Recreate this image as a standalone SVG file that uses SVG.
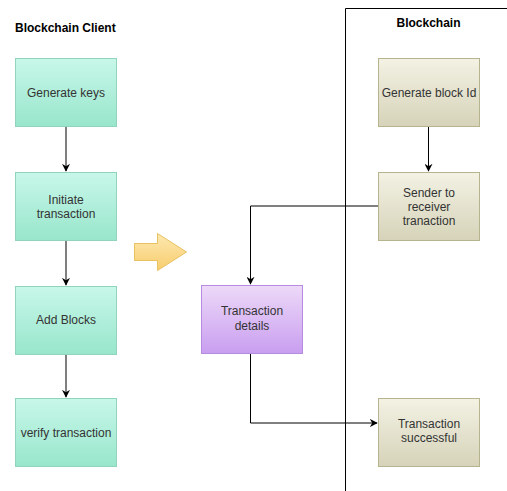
<svg xmlns="http://www.w3.org/2000/svg" width="507" height="491" viewBox="0 0 507 491">
<style>
.t{font-family:"Liberation Sans",Arial,sans-serif;font-size:12px;fill:#333;text-anchor:middle}
.h{font-family:"Liberation Sans",Arial,sans-serif;font-size:12px;font-weight:bold;fill:#000}
.g{fill:url(#gg);stroke:#8fd4bb;stroke-width:1}
.k{fill:url(#gk);stroke:#b5b48f;stroke-width:1}
.p{fill:url(#gp);stroke:#b58ce0;stroke-width:1}
.c{fill:none;stroke:#000;stroke-width:1}
</style>
<defs>
<linearGradient id="gg" x1="0" y1="0" x2="0" y2="1"><stop offset="0" stop-color="#c8f7e9"/><stop offset="1" stop-color="#98e6cc"/></linearGradient>
<linearGradient id="gk" x1="0" y1="0" x2="0" y2="1"><stop offset="0" stop-color="#f3f2e4"/><stop offset="1" stop-color="#d6d3b9"/></linearGradient>
<linearGradient id="gp" x1="0" y1="0" x2="0" y2="1"><stop offset="0" stop-color="#edd9f8"/><stop offset="1" stop-color="#c99ef0"/></linearGradient>
<linearGradient id="gy" x1="0" y1="0" x2="0" y2="1"><stop offset="0" stop-color="#fde8b0"/><stop offset="1" stop-color="#f8cd6e"/></linearGradient>
<marker id="ah" viewBox="0 0 10 10" refX="9" refY="5" markerWidth="8" markerHeight="8" orient="auto" markerUnits="userSpaceOnUse"><path d="M0,0 L10,5 L0,10 L3,5 Z" fill="#000"/></marker>
</defs>
<rect width="507" height="491" fill="#fff"/>
<g id="blockchain-lane">
<path d="M345.5,491 V8.5 H507" fill="none" stroke="#000" stroke-width="1"/>
<text class="h" x="428.5" y="27" text-anchor="middle">Blockchain</text>
</g>
<g id="client-title"><text class="h" x="15" y="32">Blockchain Client</text></g>
<g id="connectors">
<line class="c" x1="66" y1="126" x2="66" y2="171" marker-end="url(#ah)"/>
<line class="c" x1="66" y1="240" x2="66" y2="285" marker-end="url(#ah)"/>
<line class="c" x1="66" y1="354" x2="66" y2="397" marker-end="url(#ah)"/>
<line class="c" x1="428.5" y1="126" x2="428.5" y2="171" marker-end="url(#ah)"/>
<path class="c" d="M378,206 H250.5 V284" marker-end="url(#ah)"/>
<path class="c" d="M250.5,353 V423 H377" marker-end="url(#ah)"/>
</g>
<g id="n1"><rect class="g" x="15.5" y="58.5" width="101" height="68"/><text class="t" x="66" y="97">Generate keys</text></g>
<g id="n2"><rect class="g" x="15.5" y="172.5" width="101" height="68"/><text class="t" x="66" y="204">Initiate</text><text class="t" x="66" y="218">transaction</text></g>
<g id="n3"><rect class="g" x="15.5" y="286.5" width="101" height="68"/><text class="t" x="66" y="324">Add Blocks</text></g>
<g id="n4"><rect class="g" x="15.5" y="398.5" width="101" height="68"/><text class="t" x="66" y="437">verify transaction</text></g>
<g id="n5"><rect class="k" x="378.5" y="58.5" width="101" height="68"/><text class="t" x="429" y="97">Generate block Id</text></g>
<g id="n6"><rect class="k" x="378.5" y="172.5" width="101" height="68"/><text class="t" x="429" y="197">Sender to</text><text class="t" x="429" y="211">receiver</text><text class="t" x="429" y="225">tranaction</text></g>
<g id="n7"><rect class="k" x="378.5" y="398.5" width="101" height="68"/><text class="t" x="429" y="428">Transaction</text><text class="t" x="429" y="442">successful</text></g>
<g id="n8"><rect class="p" x="201.5" y="285.5" width="101" height="68"/><text class="t" x="252" y="315">Transaction</text><text class="t" x="252" y="330">details</text></g>
<g id="arrow-shape"><path d="M134.5,243.5 H157.5 V233.5 L186.5,252 L157.5,270.5 V260.5 H134.5 Z" fill="url(#gy)" stroke="#e8c160" stroke-width="1"/></g>
</svg>
